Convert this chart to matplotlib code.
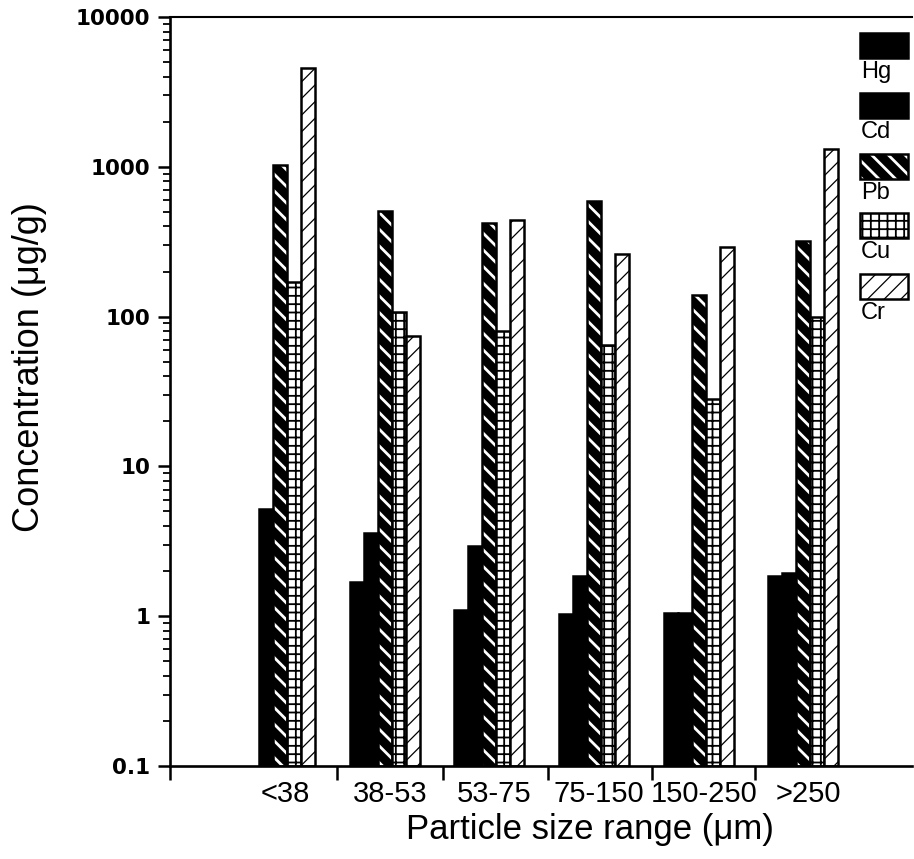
import numpy as np
import matplotlib
matplotlib.use("Agg")
import matplotlib.pyplot as plt
from matplotlib.patches import Rectangle

# Particle size fractions and metal concentrations (ug/g)
size_ranges = ["<38", "38-53", "53-75", "75-150", "150-250", ">250"]
metals = ["Hg", "Cd", "Pb", "Cu", "Cr"]
hg = [np.nan, 1.7, 1.1, 1.03, 1.05, 1.85]
cd = [5.2, 3.6, 2.95, 1.85, 1.05, 1.95]
pb = [1030, 510, 420, 590, 140, 320]
cu = [170, 107, 80, 65, 28, 100]
cr = [4600, 74, 440, 260, 293, 1320]
y_ticks = [0.1, 1, 10, 100, 1000, 10000]
y_tick_labels = ["0.1", "1", "10", "100", "1000", "10000"]

series = [hg, cd, pb, cu, cr]
YMIN, YMAX = 0.1, 10000

# fill styles: (facecolor, hatch, hatch colour, hatch linewidth)
styles = {
    "Hg": ("black", None, None, 0),
    "Cd": ("black", None, None, 0),
    "Pb": ("black", "\\\\", "white", 2.0),
    "Cu": ("white", "++", "black", 1.3),
    "Cr": ("white", "//", "black", 0.9),
}

W, H = 914, 859
fig = plt.figure(figsize=(W / 100, H / 100), dpi=100)
ax = fig.add_axes([170 / W, 1 - 766 / H, (912 - 170) / W, (766 - 17) / H])
ax.set_yscale("log")
ax.set_ylim(YMIN, YMAX)
ax.set_xlim(-1.052, 6.04)

x = np.arange(len(size_ranges))
width = 0.134
offsets = (np.arange(len(metals)) - 2) * width


def styled_bar(xpos, heights, bottom, name, w):
    fc, hatch, hc, hlw = styles[name]
    with plt.rc_context({"hatch.linewidth": hlw if hlw else 1.0}):
        if hatch is not None:
            bars = ax.bar(xpos, heights, w, bottom=bottom, facecolor=fc,
                          edgecolor=hc, hatch=hatch, linewidth=0, align="center")
            for p in bars:
                if hasattr(p, "set_hatch_linewidth"):
                    p.set_hatch_linewidth(hlw)
        else:
            ax.bar(xpos, heights, w, bottom=bottom, facecolor=fc,
                   edgecolor="black", linewidth=0, align="center")
    ax.bar(xpos, heights, w, bottom=bottom, fill=False, edgecolor="black",
           linewidth=1.8, align="center")


for name, vals, off in zip(metals, series, offsets):
    vals = np.asarray(vals, dtype=float)
    ok = ~np.isnan(vals)
    styled_bar(x[ok] + off, vals[ok] - YMIN, YMIN, name, width)

# axes styling
ax.spines["right"].set_visible(False)
for s in ["left", "bottom"]:
    ax.spines[s].set_linewidth(1.9)
ax.spines["top"].set_linewidth(1.5)

ax.set_yticks(y_ticks)
ax.set_yticklabels(y_tick_labels, fontfamily="DejaVu Sans", fontweight="bold",
                   fontsize=15.5)
ax.yaxis.set_minor_locator(matplotlib.ticker.LogLocator(base=10, subs=np.arange(2, 10)))
ax.yaxis.set_minor_formatter(matplotlib.ticker.NullFormatter())
ax.tick_params(axis="y", which="major", direction="out", length=9, width=1.8, pad=5)
ax.tick_params(axis="y", which="minor", direction="out", length=5, width=1.3)

bounds = [-1.05, 0.545, 1.558, 2.562, 3.556, 4.541]
ax.set_xticks(bounds)
ax.set_xticklabels([""] * len(bounds))
ax.set_xticks(x + 0.05, minor=True)
ax.set_xticklabels(size_ranges, minor=True, fontfamily="Liberation Sans", fontsize=21)
ax.tick_params(axis="x", which="major", direction="out", length=10, width=1.8)
ax.tick_params(axis="x", which="minor", length=0, pad=10)

# axis titles
fig.text(30 / W, 1 - 532 / H, "Concentration (μg/g)", rotation=90,
         fontfamily=["Liberation Sans", "DejaVu Sans"], fontsize=26,
         ha="center", va="bottom")
fig.text(590 / W, 1 - 829 / H, "Particle size range (μm)",
         fontfamily=["Liberation Sans", "DejaVu Sans"], fontsize=25,
         ha="center", va="center")

# legend: swatch with the metal name below it
tops = [33, 93, 154, 213, 274]
for name, top in zip(metals, tops):
    fc, hatch, hc, hlw = styles[name]
    x0, x1 = 860 / W, 908 / W
    y0, y1 = 1 - (top + 25) / H, 1 - top / H
    with plt.rc_context({"hatch.linewidth": hlw if hlw else 1.0}):
        if hatch is not None:
            r = Rectangle((x0, y0), x1 - x0, y1 - y0, transform=fig.transFigure,
                          facecolor=fc, edgecolor=hc, hatch=hatch, linewidth=0)
            if hasattr(r, "set_hatch_linewidth"):
                r.set_hatch_linewidth(hlw)
        else:
            r = Rectangle((x0, y0), x1 - x0, y1 - y0, transform=fig.transFigure,
                          facecolor=fc, edgecolor="black", linewidth=0)
        fig.add_artist(r)
    fig.add_artist(Rectangle((x0, y0), x1 - x0, y1 - y0, transform=fig.transFigure,
                             fill=False, edgecolor="black", linewidth=1.8))
    fig.text(861 / W, 1 - (top + 39) / H, name, fontfamily="Liberation Sans",
             fontsize=17, va="center", ha="left")

fig.savefig("out.png", dpi=100)
